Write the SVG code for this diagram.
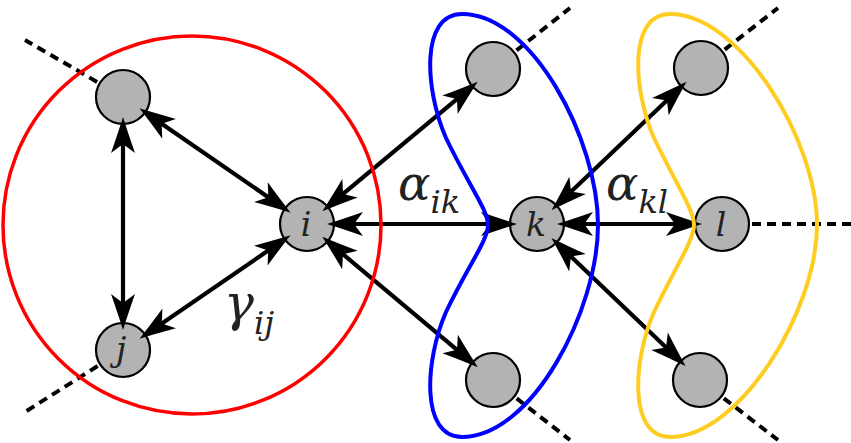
<svg xmlns="http://www.w3.org/2000/svg" width="851" height="443" viewBox="0 0 851 443">
<style>
.node{fill:#b3b3b3;stroke:#000;stroke-width:2.2}
.dash{stroke:#000;stroke-width:4;stroke-dasharray:9,6;fill:none}
.edge{stroke:#000;stroke-width:4.2;fill:none;marker-start:url(#ah);marker-end:url(#ah)}
.lbl{font-family:"DejaVu Serif",serif;font-style:italic;fill:#222;text-anchor:middle}
.greek{font-family:"DejaVu Serif",serif;font-style:italic;fill:#222}
</style>
<defs>
<marker id="ah" markerUnits="userSpaceOnUse" viewBox="-20 -14 44 28" refX="0" refY="0" markerWidth="44" markerHeight="28" orient="auto-start-reverse" overflow="visible">
<path d="M20,0 Q4,-5 -16,-12 L-7,0 L-16,12 Q4,5 20,0 Z" fill="#000"/>
</marker>
</defs>
<g id="dashes">
<line class="dash" x1="123" y1="97" x2="25" y2="40"/>
<line class="dash" x1="123" y1="350" x2="25" y2="412"/>
<line class="dash" x1="493" y1="69" x2="570" y2="8"/>
<line class="dash" x1="493" y1="380" x2="570" y2="440"/>
<line class="dash" x1="701" y1="68" x2="778" y2="8"/>
<line class="dash" x1="700" y1="380" x2="778" y2="440"/>
<line class="dash" x1="722" y1="224" x2="851" y2="224"/>
</g>
<g id="n-tl"><circle class="node" cx="123" cy="97" r="27"/></g>
<g id="n-j"><circle class="node" cx="123" cy="350" r="27"/><text class="lbl" x="121" y="361" font-size="33">j</text></g>
<g id="n-i"><circle class="node" cx="307" cy="224" r="27"/><text class="lbl" x="306" y="236" font-size="33">i</text></g>
<g id="n-tb"><circle class="node" cx="493" cy="69" r="27"/></g>
<g id="n-k"><circle class="node" cx="537" cy="224" r="27"/><text class="lbl" x="536" y="236" font-size="33">k</text></g>
<g id="n-bb"><circle class="node" cx="493" cy="380" r="27"/></g>
<g id="n-ty"><circle class="node" cx="701" cy="68" r="27"/></g>
<g id="n-l"><circle class="node" cx="722" cy="224" r="27"/><text class="lbl" x="721" y="236" font-size="33">l</text></g>
<g id="n-by"><circle class="node" cx="700" cy="380" r="27"/></g>
<g id="edges">
<line class="edge" x1="155.9" y1="119.7" x2="274.1" y2="201.3"/>
<line class="edge" x1="123" y1="137" x2="123" y2="310"/>
<line class="edge" x1="156" y1="327.4" x2="274" y2="246.6"/>
<line class="edge" x1="337.7" y1="198.4" x2="462.3" y2="94.6"/>
<line class="edge" x1="347" y1="224" x2="497" y2="224"/>
<line class="edge" x1="337.6" y1="249.7" x2="462.4" y2="354.3"/>
<line class="edge" x1="566" y1="196.4" x2="672" y2="95.6"/>
<line class="edge" x1="577" y1="224" x2="682" y2="224"/>
<line class="edge" x1="565.9" y1="251.7" x2="671.1" y2="352.3"/>
</g>
<g id="groups" fill="none">
<circle cx="192" cy="225" r="189" stroke="#ff0000" stroke-width="3.5"/>
<path stroke="#0000ff" stroke-width="4" d="M462,14 C532,14 598,140 598,225 C598,310 532,437 462,437 C420,437 425,360 446,312 C468,266 488,240 488,225 C488,210 468,184 446,138 C425,90 420,14 462,14 Z"/>
<path stroke="#ffcc22" stroke-width="4" d="M670,14 C740,14 817,140 817,225 C817,310 740,437 670,437 C628,437 633,360 654,312 C676,266 694,240 694,225 C694,210 676,184 654,138 C633,90 628,14 670,14 Z"/>
</g>
<g id="labels">
<text class="greek" x="398" y="200" font-size="48">α<tspan font-size="32" dy="13">ik</tspan></text>
<text class="greek" x="606" y="200" font-size="48">α<tspan font-size="32" dy="13">kl</tspan></text>
<text class="greek" x="224" y="320" font-size="50">γ<tspan font-size="32" dy="14">ij</tspan></text>
</g>
</svg>
